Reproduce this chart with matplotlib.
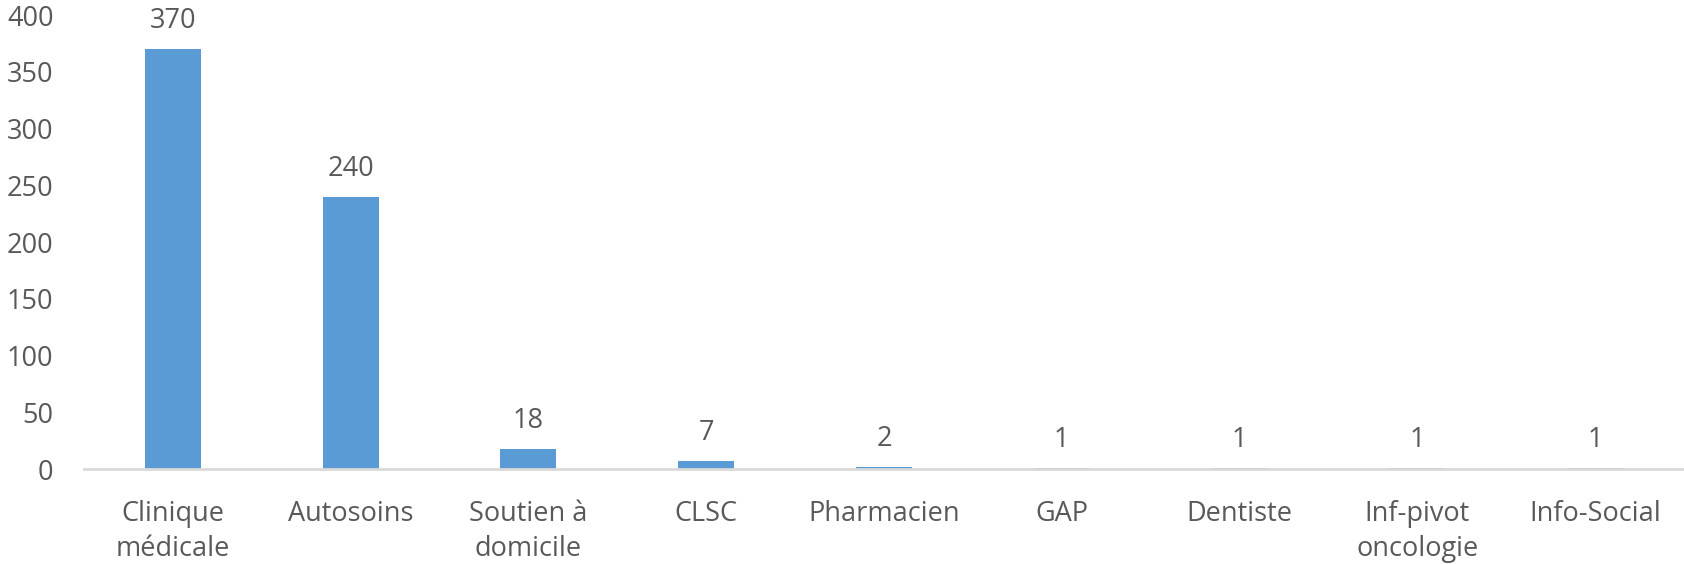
import matplotlib.pyplot as plt
import numpy as np

plt.rcParams['font.family'] = ['Open Sans', 'DejaVu Sans']

# Data
categories = ['Clinique\nmédicale', 'Autosoins', 'Soutien à\ndomicile', 'CLSC',
              'Pharmacien', 'GAP', 'Dentiste', 'Inf-pivot\noncologie', 'Info-Social']
values = [370, 240, 18, 7, 2, 1, 1, 1, 1]
y_ticks = [0, 50, 100, 150, 200, 250, 300, 350, 400]

BAR_COLOR = '#5B9BD5'
TEXT_COLOR = '#595959'
AXIS_COLOR = '#D9D9D9'
FONT_SIZE = 19.5

fig = plt.figure(figsize=(16.84, 5.64), dpi=100)
ax = fig.add_axes([0.0499, 0.1684, 0.9501, 0.805])

x = np.arange(len(categories))
rects = ax.bar(x, values, width=0.315, color=BAR_COLOR)
ax.bar_label(rects, labels=[str(v) for v in values], padding=10,
             fontsize=FONT_SIZE, color=TEXT_COLOR)

ax.set_xlim(-0.5, len(categories) - 0.5)
ax.set_ylim(0, 400)
ax.set_yticks(y_ticks)
ax.set_xticks(x, categories)

for side in ['top', 'right', 'left']:
    ax.spines[side].set_visible(False)
ax.spines['bottom'].set_color(AXIS_COLOR)
ax.spines['bottom'].set_linewidth(2)

ax.tick_params(axis='both', length=0, labelsize=FONT_SIZE, labelcolor=TEXT_COLOR)
ax.tick_params(axis='y', pad=22)
ax.tick_params(axis='x', pad=22)
for lbl in ax.get_xticklabels():
    lbl.set_linespacing(1.35)

fig.savefig('out.png', dpi=100)
